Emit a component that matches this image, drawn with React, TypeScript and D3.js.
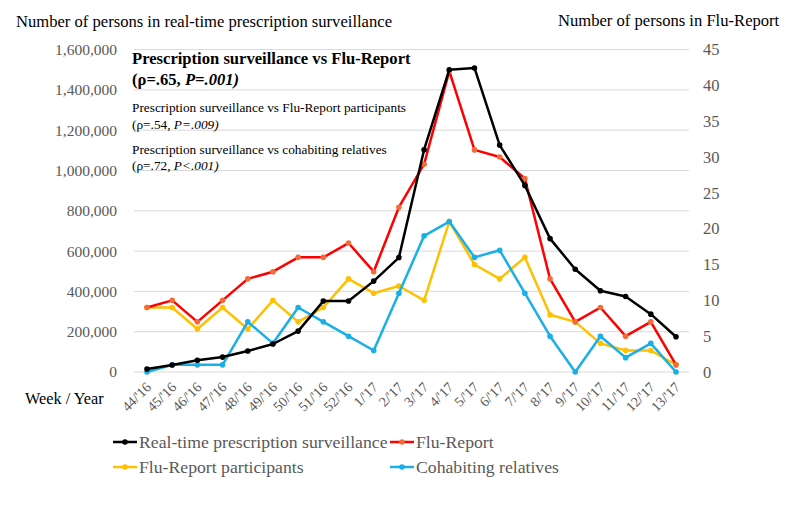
import React from "react";
import * as d3 from "d3";

const weeks = ["44/'16","45/'16","46/'16","47/'16","48/'16","49/'16","50/'16","51/'16","52/'16","1/'17","2/'17","3/'17","4/'17","5/'17","6/'17","7/'17","8/'17","9/'17","10/'17","11/'17","12/'17","13/'17"];
const prescription = [15000,35000,58000,74000,104000,139000,203000,352000,352000,451000,568000,1103000,1500000,1509000,1126000,926000,662000,510000,403000,375000,287000,175000];
const fluReport = [9,10,7,10,13,14,16,16,18,14,23,29,42,31,30,27,13,7,9,5,7,1];
const participants = [9,9,6,9,6,10,7,9,13,11,12,10,21,15,13,16,8,7,4,3,3,1];
const cohabiting = [0,1,1,1,7,4,9,7,5,3,11,19,21,16,17,11,5,0,5,2,4,0];
const leftTicks = [0,200000,400000,600000,800000,1000000,1200000,1400000,1600000];
const rightTicks = [0,5,10,15,20,25,30,35,40,45];

const FONT = "'Liberation Serif', 'Times New Roman', serif";

export default function App() {
  const W = 800, H = 513;
  const x = d3.scalePoint<string>().domain(weeks).range([147, 676]);
  const yL = d3.scaleLinear().domain([0, 1600000]).range([372, 49.6]);
  const yR = d3.scaleLinear().domain([0, 45]).range([372, 49.6]);
  const fmt = d3.format(",");

  const series = [
    { name: "Real-time prescription surveillance", vals: prescription, y: yL, color: "#000000", dot: "#000000" },
    { name: "Flu-Report", vals: fluReport, y: yR, color: "#FF0000", dot: "#F26B3A" },
    { name: "Flu-Report participants", vals: participants, y: yR, color: "#FFC000", dot: "#FFC000" },
    { name: "Cohabiting relatives", vals: cohabiting, y: yR, color: "#1AAFE6", dot: "#1AAFE6" },
  ];
  const drawOrder = [2, 3, 1, 0];

  const legendPos = [
    { x: 113, y: 442 },
    { x: 390, y: 442 },
    { x: 113, y: 467 },
    { x: 390, y: 467 },
  ];

  return (
    <svg width={W} height={H} style={{ position: "absolute", left: 0, top: 0, background: "#fff", fontFamily: FONT }}>
      <rect width={W} height={H} fill="#fff" />
      {leftTicks.map((t) => (
        <line key={"g" + t} x1={134} x2={689} y1={yL(t)} y2={yL(t)} stroke="#D9D9D9" strokeWidth={1} />
      ))}
      {leftTicks.map((t) => (
        <text key={"l" + t} x={117} y={yL(t)} dy="0.35em" textAnchor="end" fontSize={15.5} fill="#595959">{fmt(t)}</text>
      ))}
      {rightTicks.map((t) => (
        <text key={"r" + t} x={703} y={yR(t)} dy="0.35em" textAnchor="start" fontSize={16.5} fill="#595959">{t}</text>
      ))}
      {weeks.map((w) => (
        <text key={w} transform={`translate(${(x(w) as number) + 5},${388}) rotate(-45)`} textAnchor="end" fontSize={14} fill="#595959">{w}</text>
      ))}
      <text x={16} y={27} fontSize={16.6} fill="#000">Number of persons in real-time prescription surveillance</text>
      <text x={558} y={26} fontSize={16.6} fill="#000">Number of persons in Flu-Report</text>
      <text x={25} y={404} fontSize={16.3} fill="#000">Week / Year</text>

      <text x={132} y={64} fontSize={16.6} fontWeight="bold" fill="#000">Prescription surveillance vs Flu-Report</text>
      <text x={132} y={85} fontSize={16.6} fontWeight="bold" fill="#000">(ρ=.65, <tspan fontStyle="italic">P=.001)</tspan></text>
      <text x={132} y={112} fontSize={13.3} fill="#000">Prescription surveillance vs Flu-Report participants</text>
      <text x={132} y={129} fontSize={13.3} fill="#000">(ρ=.54, <tspan fontStyle="italic">P=.009)</tspan></text>
      <text x={132} y={154} fontSize={13.3} fill="#000">Prescription surveillance vs cohabiting relatives</text>
      <text x={132} y={170} fontSize={13.3} fill="#000">(ρ=.72, <tspan fontStyle="italic">P&lt;.001)</tspan></text>

      {drawOrder.map((i) => {
        const s = series[i];
        const line = d3.line<number>().x((_, j) => x(weeks[j]) as number).y((v) => s.y(v));
        return (
          <g key={s.name}>
            <path d={line(s.vals) || ""} fill="none" stroke={s.color} strokeWidth={2.5} strokeLinejoin="round" />
            {s.vals.map((v, j) => (
              <circle key={j} cx={x(weeks[j]) as number} cy={s.y(v)} r={2.8} fill={s.dot} />
            ))}
          </g>
        );
      })}

      {series.map((s, i) => (
        <g key={"lg" + i}>
          <line x1={legendPos[i].x} x2={legendPos[i].x + 24} y1={legendPos[i].y} y2={legendPos[i].y} stroke={s.color} strokeWidth={2.5} />
          <circle cx={legendPos[i].x + 12} cy={legendPos[i].y} r={2.8} fill={s.dot} />
          <text x={legendPos[i].x + 26} y={legendPos[i].y} dy="0.35em" fontSize={17.7} fill="#595959">{s.name}</text>
        </g>
      ))}
    </svg>
  );
}
